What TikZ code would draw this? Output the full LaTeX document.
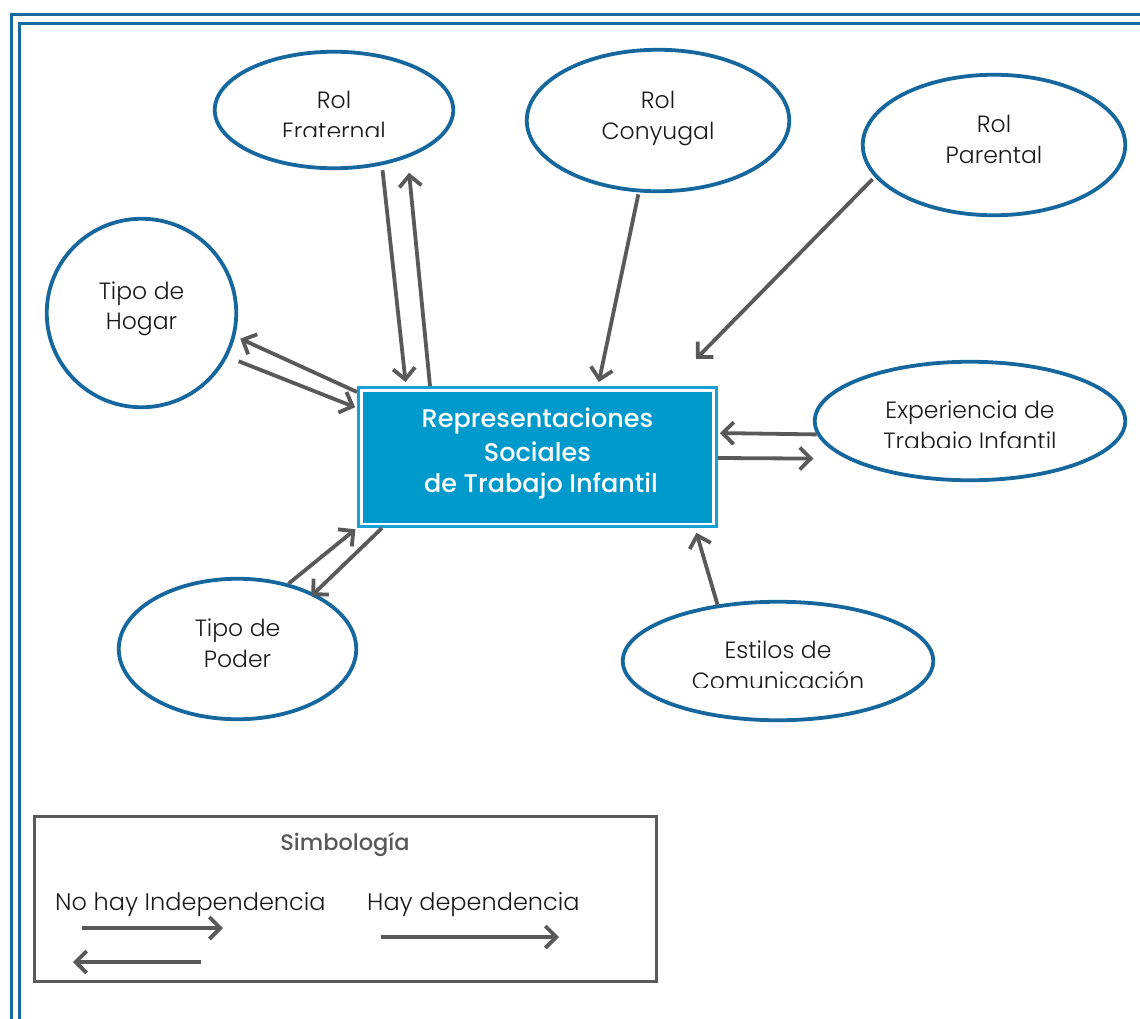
\documentclass[tikz,border=0pt]{standalone}
\usepackage{fontspec}
\setmainfont{Poppins}[UprightFont=* Light, BoldFont=* Medium]
\usetikzlibrary{arrows.meta,shapes.geometric,calc}
\definecolor{ellblue}{RGB}{21,103,157}
\definecolor{frameblue}{RGB}{21,105,160}
\definecolor{boxblue}{RGB}{0,153,204}
\definecolor{boxedge}{RGB}{25,160,215}
\definecolor{agray}{RGB}{89,89,89}
\definecolor{txt}{RGB}{25,25,25}
\begin{document}
\begin{tikzpicture}[x=1pt,y=-1pt,
  oval/.style={ellipse, draw=ellblue, line width=3.8pt, inner sep=0pt},
  lbl/.style={font=\fontsize{23.5}{28}\selectfont, text=txt, anchor=base, inner sep=0pt},
  ctext/.style={font=\bfseries\fontsize{25.5}{30}\selectfont, text=white, anchor=base, inner sep=0pt},
  legtext/.style={font=\fontsize{24}{28}\selectfont, text=txt, anchor=base west, inner sep=0pt},
  conn/.style={draw=agray, line width=3.8pt, -{Straight Barb[length=11pt,width=22pt]}}]
\useasboundingbox (0,0) rectangle (1140,1018);
\clip (0,0) rectangle (1140,1018);

% page frame
\draw[frameblue, line width=3pt] (11.5,1030) -- (11.5,14.5) -- (1150,14.5);
\draw[frameblue, line width=3pt] (19,1030) -- (19,23.5) -- (1150,23.5);

% ellipses
\node[oval, minimum width=238.5pt, minimum height=116.5pt] (frat) at (334,110) {};
\node[oval, minimum width=262.5pt, minimum height=141.5pt] (cony) at (658,120.5) {};
\node[oval, minimum width=262.5pt, minimum height=140.5pt] (paren) at (994,145) {};
\node[oval, minimum width=189.5pt, minimum height=188.5pt] (hogar) at (141.5,313) {};
\node[oval, minimum width=310.5pt, minimum height=118.5pt] (exper) at (970,421) {};
\node[oval, minimum width=237.5pt, minimum height=140.5pt] (poder) at (237.5,649) {};
\node[oval, minimum width=310.5pt, minimum height=118.5pt] (estil) at (778,661) {};

% ellipse texts
\node[lbl] (frat1) at (334,108) {Rol};
\begin{scope}
  \clip (200,110) rectangle (470,136);
  \node[lbl] (frat2) at (334,139) {Fraternal};
\end{scope}
\node[lbl] (cony1) at (658,108) {Rol};
\node[lbl] (cony2) at (658,139) {Conyugal};
\node[lbl] (paren1) at (994,132) {Rol};
\node[lbl] (paren2) at (994,163) {Parental};
\node[lbl] (hogar1) at (141.5,299) {Tipo de};
\node[lbl] (hogar2) at (141.5,329) {Hogar};
\node[lbl] (exper1) at (970,418) {Experiencia de};
\begin{scope}
  \clip (800,420) rectangle (1130,447);
  \node[lbl] (exper2) at (970,449.5) {Trabajo Infantil};
\end{scope}
\node[lbl] (poder1) at (237.5,636) {Tipo de};
\node[lbl] (poder2) at (237.5,667) {Poder};
\node[lbl] (estil1) at (778,658) {Estilos de};
\begin{scope}
  \clip (600,660) rectangle (950,687);
  \node[lbl] (estil2) at (778,689.5) {Comunicación};
\end{scope}

% central box
\node[rectangle, draw=boxedge, line width=3pt, fill=white, inner sep=0pt,
      minimum width=358pt, minimum height=139pt,
      path picture={\fill[boxblue] ($(path picture bounding box.south west)+(4.5pt,4pt)$)
        rectangle ($(path picture bounding box.north east)-(4.5pt,4pt)$);}]
      (rs) at (537.5,457) {};
\node[ctext] (rs1) at (537.5,427) {Representaciones};
\node[ctext] (rs2) at (537.5,461) {Sociales};
\node[ctext] (rs3) at (541,492) {de Trabajo Infantil};

% connectors
\draw[conn, shorten <=5pt, shorten >=4pt] (frat.-49) -- ([xshift=49pt]rs.north west);
\draw[conn, shorten >=15pt] ([xshift=73pt]rs.north west) -- (frat.-33);
\draw[conn, shorten >=5.5pt] ([yshift=-6pt]rs.north west) -- (hogar.-14);
\draw[conn, shorten <=12pt, shorten >=2pt] (hogar.-27) -- ([yshift=-22pt]rs.north west);
\draw[conn, shorten >=2pt] (poder.52) -- (rs.south west);
\draw[conn, shorten >=-4pt] ([xshift=25pt]rs.south west) -- (poder.36);
\draw[conn, shorten <=2pt, shorten >=4pt] (cony.-105) -- ([xshift=241pt]rs.north west);
\coordinate (parend) at (696,359);
\draw[conn, shorten <=3pt] (paren.-165) -- (parend);
\draw[conn, shorten >=2pt] (exper.-175.5) -- ([yshift=-47pt]rs.north east);
\draw[conn, shorten >=33pt] ([yshift=-72pt]rs.north east) -- (exper.-163.5);
\draw[conn, shorten >=5pt] (estil.137) -- ([xshift=-23pt]rs.south east);

% legend
\node[rectangle, draw=agray, line width=3pt, minimum width=622pt, minimum height=165pt, inner sep=0pt]
  (leg) at (345.5,899) {};
\node[font=\bfseries\fontsize{22.5}{26}\selectfont, text=agray, anchor=base, inner sep=0pt] (legtitle) at (345,850) {Simbología};
\node[legtext] (legnoind) at (55,910) {No hay Independencia};
\node[legtext] (legdep) at (367,910) {Hay dependencia};
\coordinate (l1a) at (82,928);
\coordinate (l1b) at (223,928);
\coordinate (l2a) at (201,962);
\coordinate (l2b) at (73,962);
\coordinate (l3a) at (381,937);
\coordinate (l3b) at (559,937);
\draw[conn] (l1a) -- (l1b);
\draw[conn] (l2a) -- (l2b);
\draw[conn] (l3a) -- (l3b);
\end{tikzpicture}
\end{document}
